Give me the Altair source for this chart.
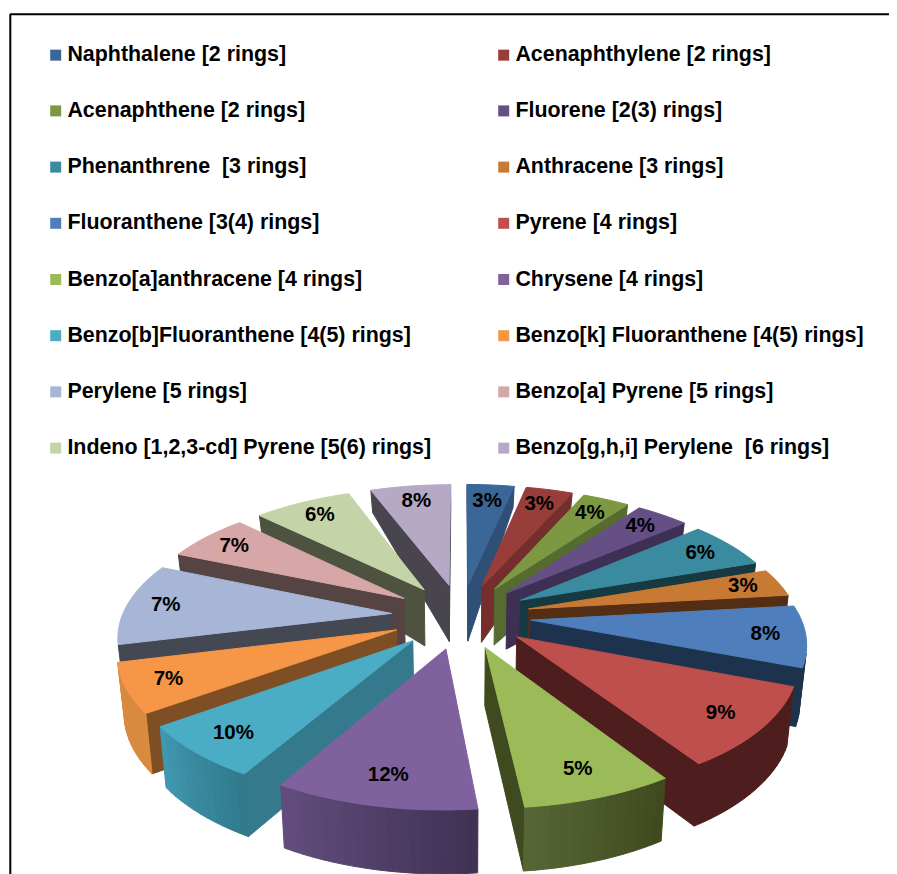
import numpy as np
import altair as alt

names = ["Naphthalene [2 rings]", "Acenaphthylene [2 rings]", "Acenaphthene [2 rings]", "Fluorene [2(3) rings]",
         "Phenanthrene \u00a0[3 rings]", "Anthracene [3 rings]", "Fluoranthene [3(4) rings]", "Pyrene [4 rings]",
         "Benzo[a]anthracene [4 rings]", "Chrysene [4 rings]", "Benzo[b]Fluoranthene [4(5) rings]",
         "Benzo[k] Fluoranthene [4(5) rings]", "Perylene [5 rings]", "Benzo[a] Pyrene [5 rings]",
         "Indeno [1,2,3-cd] Pyrene [5(6) rings]", "Benzo[g,h,i] Perylene \u00a0[6 rings]"]
# slice sizes as drawn (percent of the circle)
shares = [3.33, 3.33, 3.33, 3.75, 5.97, 3.47, 7.64, 10.0, 7.5, 10.0, 6.67, 6.11, 10.28, 5.97, 6.94, 5.69]
# the percentages printed on the slices
labels = ["3%", "3%", "4%", "4%", "6%", "3%", "8%", "9%", "5%", "12%", "10%", "7%", "7%", "7%", "6%", "8%"]

tops = ["#3B6698", "#983D3A", "#7C9843", "#654F85", "#3A8AA0", "#C87A35", "#4E7FBC", "#BE4F4C",
        "#9BBB59", "#7F619E", "#4BACC6", "#F79646", "#A7B6D6", "#D7A6A6", "#C5D4A8", "#B5A9C6"]
walls = ["#2F4F77", "#742F2C", "#556B2F", "#3E2F55", "#173A42", "#532E14", "#1D334D", "#4E1E1E",
         "#3F4A1F", "#4A3A5E", "#357A8C", "#7E4E25", "#434852", "#564343", "#4D533F", "#48454F"]
outer_a = ["#2F4F77", "#742F2C", "#556B2F", "#3E2F55", "#173A42", "#532E14", "#1D334D", "#4E1E1E",
           "#3F4A1F", "#3F3355", "#307A8C", "#D88A3F", "#434852", "#564343", "#4D533F", "#48454F"]
outer_b = ["#2F4F77", "#742F2C", "#556B2F", "#3E2F55", "#173A42", "#532E14", "#1D334D", "#4E1E1E",
           "#566535", "#624C7C", "#4197B0", "#D88A3F", "#434852", "#564343", "#4D533F", "#48454F"]

W, H = 881, 866
CX, CY, RX, RY, K = 461 - 8, 616 - 8, 341, 158, 0.195
R, E = 0.79, 0.205


def project(X, Y):
    s = 1 / (1 - K * Y)
    return CX + RX * X * s, CY + RY * Y * s


def lower(p):
    h = np.interp(p[1], [476, 575, 642, 802], [20, 56, 58, 64])
    return CX + (p[0] - CX) * 0.98, p[1] + float(h)


def area(poly):
    a = 0
    for i in range(len(poly)):
        x1, y1 = poly[i]
        x2, y2 = poly[(i + 1) % len(poly)]
        a += x1 * y2 - x2 * y1
    return a


def mix(c1, c2, t):
    a = [int(c1[i:i + 2], 16) for i in (1, 3, 5)]
    b = [int(c2[i:i + 2], 16) for i in (1, 3, 5)]
    return "#%02x%02x%02x" % tuple(int(round(u + (v - u) * t)) for u, v in zip(a, b))


def feature(poly, fill):
    ring = [[float(x), float(y)] for x, y in poly]
    ring.append(ring[0])
    return {"type": "Feature", "properties": {"fill": fill},
            "geometry": {"type": "Polygon", "coordinates": [ring]}}


edges = np.concatenate([[0], np.cumsum(shares)]) * 3.6
edges = edges * 360 / edges[-1]
order = sorted(range(len(shares)), key=lambda i: -np.cos(np.radians((edges[i] + edges[i + 1]) / 2)))

faces = []
texts = []
for i in order:
    a0, a1 = edges[i], edges[i + 1]
    mid = np.radians((a0 + a1) / 2)
    ax, ay = E * np.sin(mid), -E * np.cos(mid)
    n = max(3, int((a1 - a0) / 2))
    angs = np.radians(np.linspace(a0, a1, n + 1))
    arc = [project(ax + R * np.sin(t), ay - R * np.cos(t)) for t in angs]
    apex = project(ax, ay)
    top = [apex] + arc
    sign = area(top)
    ring = [(apex, arc[0], walls[i]), (arc[-1], apex, walls[i])]
    side = []
    for p, q, c in ring:
        poly = [p, q, lower(q), lower(p)]
        if area(poly) * sign < 0:
            side.append(feature(poly, c))
    for j in range(n):
        poly = [arc[j], arc[j + 1], lower(arc[j + 1]), lower(arc[j])]
        if area(poly) * sign < 0:
            side.append(feature(poly, mix(outer_a[i], outer_b[i], j / max(1, n - 1))))
    faces += side
    faces.append(feature(top, tops[i]))
    f = 0.82 + 0.035 * abs(np.sin(mid))
    lx, ly = project(ax + f * R * np.sin(mid), ay - f * R * np.cos(mid))
    texts.append({"px": float(lx), "py": float(ly), "label": labels[i]})

pixel_x = alt.Scale(domain=[0, W], range=[0, W], nice=False, zero=False)
pixel_y = alt.Scale(domain=[0, H], range=[0, H], nice=False, zero=False)

pie = (
    alt.Chart(alt.Data(values=faces))
    .mark_geoshape(strokeWidth=1)
    .encode(fill=alt.Fill("properties.fill:N", scale=None), stroke=alt.Stroke("properties.fill:N", scale=None))
    .project(type="identity", scale=1, translate=[0, 0])
)

text = (
    alt.Chart(alt.Data(values=texts))
    .mark_text(font="Liberation Sans", fontSize=20.5, fontWeight="bold", color="#000000", baseline="middle", align="center")
    .encode(x=alt.X("px:Q", scale=pixel_x, axis=None), y=alt.Y("py:Q", scale=pixel_y, axis=None), text="label:N")
)

legend_rows = [{"name": n} for n in names]
legend = (
    alt.Chart(alt.Data(values=legend_rows))
    .mark_square(size=0, opacity=1)
    .encode(
        x=alt.value(-200),
        y=alt.value(-200),
        color=alt.Color(
            "name:N",
            scale=alt.Scale(domain=names, range=tops),
            legend=alt.Legend(
                title=None, orient="none", legendX=37, legendY=36, columns=2, direction="horizontal",
                symbolType="square", symbolSize=121, symbolStrokeWidth=0, symbolOpacity=1,
                labelFont="Liberation Sans", labelFontSize=21.4, labelFontWeight="bold", labelColor="#000000",
                labelOffset=1, labelLimit=500, rowPadding=33.2, columnPadding=61,
            ),
        ),
    )
)

frame_top = alt.Chart(alt.Data(values=[{"k": 1}])).mark_rule(color="#000000", strokeWidth=2).encode(
    x=alt.value(2), x2=alt.value(W), y=alt.value(6.3))
frame_left = alt.Chart(alt.Data(values=[{"k": 1}])).mark_rule(color="#000000", strokeWidth=2).encode(
    x=alt.value(2.3), y=alt.value(6), y2=alt.value(H))

chart = (
    alt.layer(legend, pie, text, frame_top, frame_left)
    .properties(width=W, height=H, padding=0, autosize=alt.AutoSizeParams(type="none"), background="#ffffff")
    .configure_view(stroke=None)
)

chart.save("out.html", embed_options={"renderer": "svg", "actions": False})
